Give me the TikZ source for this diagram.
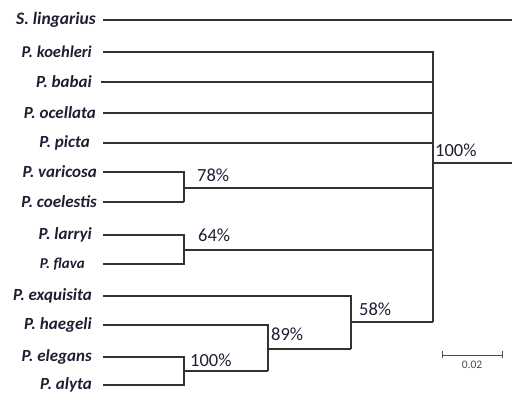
\documentclass[tikz,border=0pt]{standalone}
\usepackage{fontspec}
\setmainfont{Carlito}
\usepackage{xcolor}
\usepackage{tikz}
\usetikzlibrary{positioning}
\definecolor{inkblue}{RGB}{30,30,50}
\tikzset{tip/.style={anchor=east,inner sep=0pt,text=inkblue,font=\bfseries\itshape\fontsize{17}{19}\selectfont},
         pct/.style={anchor=base west,inner sep=0pt,text=inkblue,font=\fontsize{18.5}{20}\selectfont},
         branch/.style={draw=black!80,line width=1.1pt}}

\begin{document}
\begin{tikzpicture}[x=1pt,y={(0pt,-1pt)}]
    \useasboundingbox (0,0) rectangle (512,395);
    \node[tip,font=\bfseries\itshape\fontsize{17.5}{19}\selectfont] (lingarius) at (96,20) {S. lingarius};
    \node[tip,font=\bfseries\itshape\fontsize{16.5}{18}\selectfont] (koehleri) at (92,52) {P. koehleri};
    \node[tip] (babai) at (92,82) {P. babai};
    \node[tip] (ocellata) at (96,113) {P. ocellata};
    \node[tip] (picta) at (90,143) {P. picta};
    \node[tip] (varicosa) at (97,172) {P. varicosa};
    \node[tip] (coelestis) at (97,202) {P. coelestis};
    \node[tip] (larryi) at (92,235) {P. larryi};
    \node[tip,font=\bfseries\itshape\fontsize{15}{17}\selectfont] (flava) at (85,264) {P. flava};
    \node[tip] (exquisita) at (92,296) {P. exquisita};
    \node[tip] (haegeli) at (92,325) {P. haegeli};
    \node[tip] (elegans) at (92,357) {P. elegans};
    \node[tip] (alyta) at (92,385) {P. alyta};

    \coordinate (lingend) at (512,20);
    \coordinate (root) at (433,163);
    \coordinate (rootend) at (512,163);
    \coordinate (n78) at (184,188);
    \coordinate (n64) at (184,250);
    \coordinate (n58) at (351,322);
    \coordinate (n89) at (268,349);
    \coordinate (n100) at (184,371);

    \node[pct] (l100a) at (435,157) {100\%};
    \node[pct] (l78) at (197,182) {78\%};
    \node[pct] (l64) at (198,242) {64\%};
    \node[pct] (l58) at (359,316) {58\%};
    \node[pct] (l89) at (271,341) {89\%};
    \node[pct] (l100b) at (190,367) {100\%};

    \draw[branch] (lingarius.east) ++(7,0) -- (lingend);
    \draw[branch] (koehleri.east) ++(11,0) -| (n58 -| root);
    \draw[branch] (babai.east) ++(9,0) -- (babai.east -| root);
    \draw[branch] (ocellata.east) ++(7,0) -- (ocellata.east -| root);
    \draw[branch] (picta.east) ++(13,0) -- (picta.east -| root);
    \draw[branch] (root) -- (rootend);
    \draw[branch] (varicosa.east) ++(6,0) -| (n78);
    \draw[branch,line width=2.4pt] (coelestis.east) ++(6,0) -- (coelestis.east -| n78);
    \draw[branch] (n78) -- (coelestis.east -| n78);
    \draw[branch] (n78) -- (n78 -| root);
    \draw[branch] (larryi.east) ++(11,0) -| (n64) |- ([xshift=18pt]flava.east);
    \draw[branch] (n64) -- (n64 -| root);
    \draw[branch] (exquisita.east) ++(11,0) -| (n89 -| n58);
    \draw[branch] (n58) -- (n58 -| root);
    \draw[branch] (haegeli.east) ++(11,0) -| (n100 -| n89);
    \draw[branch] (n89) -- (n89 -| n58);
    \draw[branch] (elegans.east) ++(11,0) -| (n100) |- ([xshift=11pt]alyta.east);
    \draw[branch] (n100) -- (n100 -| n89);

    % scale bar
    \coordinate (sbl) at (442,355);
    \coordinate (sbr) at (502,355);
    \draw[black!70,line width=0.9pt] (sbl) -- (sbr);
    \draw[black!70,line width=0.9pt] ([yshift=-3.5pt]sbl) -- ([yshift=3.5pt]sbl);
    \draw[black!70,line width=0.9pt] ([yshift=-3.5pt]sbr) -- ([yshift=3.5pt]sbr);
    \node[text=black!70,font=\fontsize{11.5}{13}\selectfont] (scalelab) at (472,365) {0.02};
\end{tikzpicture}
\end{document}
